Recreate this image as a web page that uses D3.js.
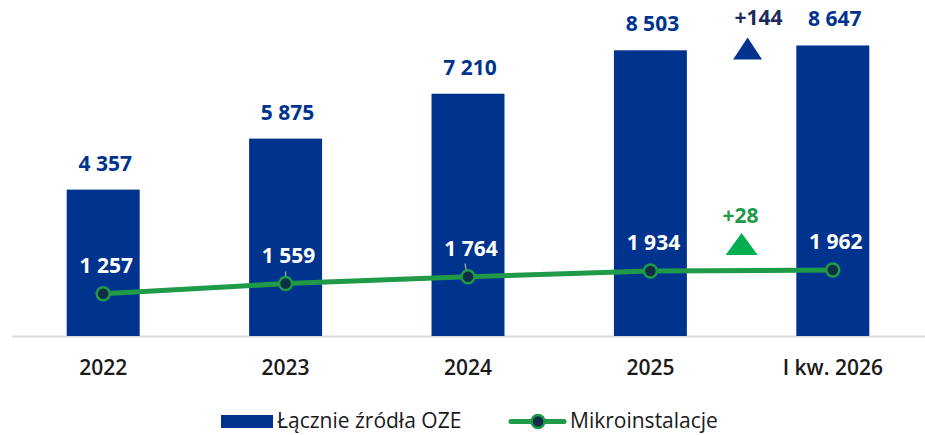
<!DOCTYPE html>
<html>
<head>
<meta charset="utf-8">
<script src="https://cdn.jsdelivr.net/npm/d3@7"></script>
<style>
  body { margin: 0; background: #fff; }
  text { font-family: "Open Sans", sans-serif; }
</style>
</head>
<body>
<div id="chart"></div>
<script>
var categories = ['2022', '2023', '2024', '2025', 'I kw. 2026'];
var oze = [4357, 5875, 7210, 8503, 8647];
var mikro = [1257, 1559, 1764, 1934, 1962];
var legendLabels = ['Łącznie źródła OZE', 'Mikroinstalacje'];

var width = 925,
    height = 435,
    blue = '#00338d',
    green = '#1e9a48',
    greenTri = '#00b050',
    dot = '#0f2d45';

var fmt = function(v) { return d3.format(',')(v).replace(/,/g, ' '); };

var svg = d3.select('#chart')
  .append('svg')
  .attr('width', width)
  .attr('height', height);

var x = d3.scaleBand()
  .domain(categories)
  .range([12, 924])
  .paddingInner(0.6)
  .paddingOuter(0.3);

var y = d3.scaleLinear()
  .domain([0, 10000])
  .range([336, 0]);

var cx = function(c) { return x(c) + x.bandwidth() / 2; };

// baseline
svg.append('line')
  .attr('x1', 12).attr('x2', 925)
  .attr('y1', y(0) + 0.5).attr('y2', y(0) + 0.5)
  .attr('stroke', '#d9d9d9')
  .attr('stroke-width', 2);

// bars
svg.selectAll('rect.bar')
  .data(oze)
  .enter()
  .append('rect')
  .attr('class', 'bar')
  .attr('x', function(d, i) { return x(categories[i]); })
  .attr('y', function(d) { return y(d); })
  .attr('width', x.bandwidth())
  .attr('height', function(d) { return y(0) - y(d); })
  .attr('fill', blue);

svg.selectAll('text.barlabel')
  .data(oze)
  .enter()
  .append('text')
  .attr('class', 'barlabel')
  .attr('x', function(d, i) { return cx(categories[i]) + 2; })
  .attr('y', function(d) { return y(d) - 19; })
  .attr('text-anchor', 'middle')
  .attr('font-size', 21)
  .attr('font-weight', 700)
  .attr('fill', blue)
  .text(fmt);

// category labels
svg.selectAll('text.cat')
  .data(categories)
  .enter()
  .append('text')
  .attr('class', 'cat')
  .attr('x', function(d) { return cx(d); })
  .attr('y', 375)
  .attr('text-anchor', 'middle')
  .attr('font-size', 21)
  .attr('font-weight', 600)
  .attr('fill', '#1a1a1a')
  .text(function(d) { return d; });

// leader ticks for two labels
svg.append('line')
  .attr('x1', cx(categories[1])).attr('x2', cx(categories[1]))
  .attr('y1', y(mikro[1]) - 12).attr('y2', y(mikro[1]) - 3)
  .attr('stroke', '#a6a6a6').attr('stroke-width', 1.3);
svg.append('line')
  .attr('x1', cx(categories[2]) - 3).attr('x2', cx(categories[2]) - 1)
  .attr('y1', y(mikro[2]) - 13).attr('y2', y(mikro[2]) - 3)
  .attr('stroke', '#a6a6a6').attr('stroke-width', 1.3);

// line
var line = d3.line()
  .x(function(d, i) { return cx(categories[i]); })
  .y(function(d) { return y(d); });

svg.append('path')
  .datum(mikro)
  .attr('d', line)
  .attr('fill', 'none')
  .attr('stroke', green)
  .attr('stroke-width', 5);

svg.selectAll('circle.pt')
  .data(mikro)
  .enter()
  .append('circle')
  .attr('class', 'pt')
  .attr('cx', function(d, i) { return cx(categories[i]); })
  .attr('cy', function(d) { return y(d); })
  .attr('r', 6.5)
  .attr('fill', dot)
  .attr('stroke', green)
  .attr('stroke-width', 2.5);

svg.selectAll('text.ptlabel')
  .data(mikro)
  .enter()
  .append('text')
  .attr('class', 'ptlabel')
  .attr('x', function(d, i) { return cx(categories[i]) + 3; })
  .attr('y', function(d) { return y(d) - 21; })
  .attr('text-anchor', 'middle')
  .attr('font-size', 21)
  .attr('font-weight', 700)
  .attr('fill', '#fff')
  .text(fmt);

// change markers between last two periods
var midX = (cx(categories[3]) + cx(categories[4])) / 2;
var dOze = oze[4] - oze[3];
var dMikro = mikro[4] - mikro[3];

function triangle(xc, yb, w, h) {
  return 'M' + (xc - w / 2) + ',' + yb + 'L' + (xc + w / 2) + ',' + yb + 'L' + xc + ',' + (yb - h) + 'Z';
}

var top4 = y(oze[4]);
svg.append('path')
  .attr('d', triangle(midX + 6, top4 + 14, 29, 22))
  .attr('fill', blue);
svg.append('text')
  .attr('x', midX + 17)
  .attr('y', top4 - 20)
  .attr('text-anchor', 'middle')
  .attr('font-size', 21)
  .attr('font-weight', 700)
  .attr('fill', '#1c2b5a')
  .text('+' + dOze);

var top5 = y(mikro[4]);
svg.append('path')
  .attr('d', triangle(midX, top5 - 15, 32, 22))
  .attr('fill', greenTri);
svg.append('text')
  .attr('x', midX - 1)
  .attr('y', top5 - 47)
  .attr('text-anchor', 'middle')
  .attr('font-size', 21)
  .attr('font-weight', 700)
  .attr('fill', green)
  .text('+' + dMikro);

// legend
var lg = svg.append('g');
lg.append('rect')
  .attr('x', 221).attr('y', 415)
  .attr('width', 52).attr('height', 13)
  .attr('fill', blue);
lg.append('text')
  .attr('x', 277).attr('y', 428)
  .attr('font-size', 21)
  .attr('fill', '#1a1a1a')
  .text(legendLabels[0]);

lg.append('line')
  .attr('x1', 511).attr('x2', 564)
  .attr('y1', 421.5).attr('y2', 421.5)
  .attr('stroke', green)
  .attr('stroke-width', 5)
  .attr('stroke-linecap', 'round');
lg.append('circle')
  .attr('cx', 538).attr('cy', 421.5)
  .attr('r', 6.5)
  .attr('fill', dot)
  .attr('stroke', green)
  .attr('stroke-width', 2.5);
lg.append('text')
  .attr('x', 570).attr('y', 428)
  .attr('font-size', 21)
  .attr('fill', '#1a1a1a')
  .text(legendLabels[1]);
</script>
</body>
</html>
